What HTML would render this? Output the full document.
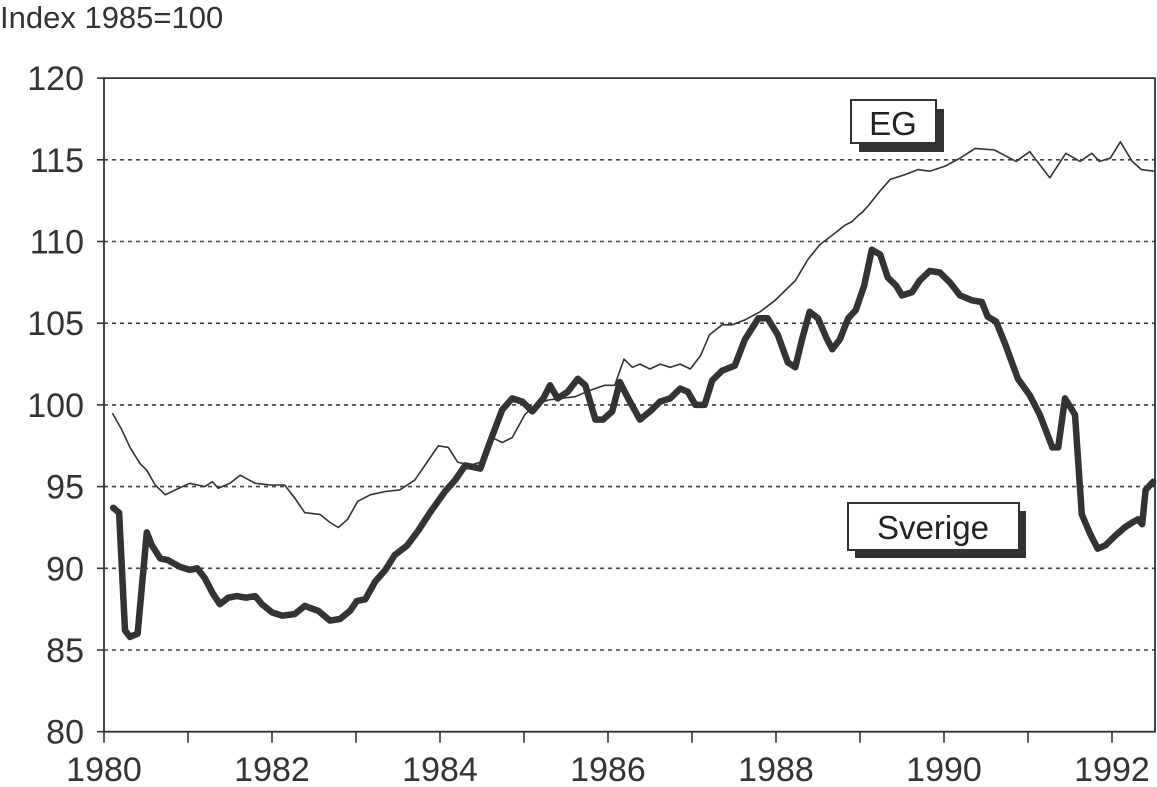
<!DOCTYPE html>
<html><head><meta charset="utf-8"><style>
html,body{margin:0;padding:0;background:#fff;}
svg{display:block;font-family:"Liberation Sans",sans-serif;}
</style></head><body>
<svg id="chart" width="1157" height="787" viewBox="0 0 1157 787" xmlns="http://www.w3.org/2000/svg">
<text x="0" y="28" font-size="31" fill="#333">Index  1985=100</text>
<g id="grid"></g>
<g id="axes"></g>
<g id="series"></g>
<g>
<rect x="859" y="109" width="85" height="43" fill="#333"/>
<rect x="851" y="100" width="85" height="43" fill="#fff" stroke="#333" stroke-width="2"/>
<text x="893" y="135" font-size="33" text-anchor="middle" fill="#222">EG</text>
</g>
<g>
<rect x="855" y="511" width="171" height="47" fill="#333"/>
<rect x="848" y="503" width="171" height="47" fill="#fff" stroke="#333" stroke-width="2"/>
<text x="933" y="539" font-size="33" text-anchor="middle" fill="#222">Sverige</text>
</g>
</svg>
<script>
const yTicks=[80,85,90,95,100,105,110,115,120];
const xTickLabels=[1980,1982,1984,1986,1988,1990,1992];
const sverigeT=[1980.11,1980.18,1980.25,1980.31,1980.40,1980.51,1980.57,1980.67,1980.76,1980.90,1981.02,1981.11,1981.20,1981.29,1981.38,1981.48,1981.58,1981.69,1981.80,1981.88,1982.00,1982.12,1982.27,1982.39,1982.55,1982.69,1982.81,1982.93,1983.01,1983.11,1983.23,1983.35,1983.46,1983.61,1983.74,1983.88,1984.06,1984.18,1984.30,1984.48,1984.60,1984.74,1984.86,1984.98,1985.10,1985.23,1985.31,1985.40,1985.52,1985.64,1985.73,1985.85,1985.94,1986.05,1986.14,1986.24,1986.38,1986.50,1986.62,1986.74,1986.86,1986.95,1987.04,1987.15,1987.24,1987.36,1987.51,1987.63,1987.79,1987.90,1988.02,1988.14,1988.23,1988.31,1988.40,1988.50,1988.60,1988.67,1988.76,1988.86,1988.95,1989.05,1989.14,1989.24,1989.33,1989.43,1989.50,1989.62,1989.71,1989.83,1989.95,1990.07,1990.19,1990.33,1990.45,1990.52,1990.62,1990.73,1990.88,1991.02,1991.14,1991.29,1991.36,1991.44,1991.56,1991.64,1991.74,1991.83,1991.92,1992.04,1992.15,1992.24,1992.31,1992.36,1992.40,1992.49];
const sverigeV=[93.7,93.4,86.2,85.8,86.0,92.2,91.4,90.6,90.5,90.1,89.9,90.0,89.4,88.5,87.8,88.2,88.3,88.2,88.3,87.8,87.3,87.1,87.2,87.7,87.4,86.8,86.9,87.4,88.0,88.1,89.2,89.9,90.8,91.4,92.3,93.4,94.7,95.4,96.3,96.1,97.8,99.7,100.4,100.2,99.6,100.4,101.2,100.4,100.8,101.6,101.2,99.1,99.1,99.6,101.4,100.4,99.1,99.6,100.2,100.4,101.0,100.8,100.0,100.0,101.5,102.1,102.4,104.0,105.3,105.3,104.3,102.6,102.3,104.0,105.7,105.3,104.1,103.4,104.0,105.3,105.8,107.3,109.5,109.2,107.8,107.3,106.7,106.9,107.6,108.2,108.1,107.5,106.7,106.4,106.3,105.4,105.1,103.7,101.6,100.6,99.4,97.4,97.4,100.4,99.4,93.3,92.1,91.2,91.4,92.0,92.5,92.8,93.0,92.7,94.8,95.3];
const egT=[1980.10,1980.21,1980.31,1980.43,1980.51,1980.61,1980.73,1980.85,1981.02,1981.20,1981.29,1981.36,1981.50,1981.62,1981.80,1981.98,1982.15,1982.27,1982.39,1982.57,1982.69,1982.79,1982.90,1983.02,1983.17,1983.35,1983.52,1983.70,1983.86,1983.98,1984.10,1984.21,1984.36,1984.48,1984.62,1984.74,1984.86,1985.01,1985.13,1985.29,1985.43,1985.61,1985.79,1985.96,1986.08,1986.19,1986.29,1986.38,1986.50,1986.62,1986.74,1986.86,1986.98,1987.10,1987.21,1987.36,1987.48,1987.63,1987.81,1987.99,1988.11,1988.23,1988.38,1988.52,1988.70,1988.82,1988.90,1988.98,1989.03,1989.10,1989.24,1989.36,1989.54,1989.69,1989.83,1990.01,1990.19,1990.37,1990.60,1990.86,1991.02,1991.26,1991.45,1991.62,1991.76,1991.85,1991.98,1992.10,1992.24,1992.35,1992.50];
const egV=[99.5,98.5,97.4,96.4,96.0,95.1,94.5,94.8,95.2,95.0,95.3,94.9,95.2,95.7,95.2,95.1,95.1,94.3,93.4,93.3,92.8,92.5,93.0,94.1,94.5,94.7,94.8,95.4,96.6,97.5,97.4,96.5,96.3,96.5,98.0,97.7,98.0,99.4,100.0,100.3,100.4,100.5,100.9,101.2,101.2,102.8,102.3,102.5,102.2,102.5,102.3,102.5,102.2,103.0,104.3,104.9,104.9,105.2,105.7,106.4,107.0,107.6,108.9,109.8,110.5,111.0,111.2,111.6,111.8,112.2,113.1,113.8,114.1,114.4,114.3,114.6,115.1,115.7,115.6,114.9,115.5,113.9,115.4,114.9,115.4,114.9,115.1,116.1,114.9,114.4,114.3];

const NS="http://www.w3.org/2000/svg";
const X0=104,PXY=84.0,Y0=731.7,PXV=16.34;
function xs(t){return X0+(t-1980)*PXY;}
function ys(v){return Y0-(v-80)*PXV;}
function mk(tag,attrs,parent){const e=document.createElementNS(NS,tag);for(const k in attrs)e.setAttribute(k,attrs[k]);parent.appendChild(e);return e;}
const grid=document.getElementById('grid'),axes=document.getElementById('axes'),ser=document.getElementById('series');
const right=1155;
yTicks.forEach(v=>{
  const y=ys(v);
  if(v>80&&v<120){
    const l=mk('line',{x1:X0,x2:right,y1:y,y2:y,stroke:'#444','stroke-width':1.6,'stroke-dasharray':'4 4'},grid);
    
    
  }
  const tk=mk('line',{x1:X0-7,x2:X0,y1:y,y2:y,stroke:'#333','stroke-width':1.6},axes);
  
  
  const tx=mk('text',{x:84,y:y+12,'font-size':34,'text-anchor':'end',fill:'#333'},axes);
  tx.textContent=v;
  
  
});
const frame=mk('path',{d:`M${X0} ${ys(120)} H${right} V${Y0} H${X0} Z`,fill:'none',stroke:'#333','stroke-width':1.8},axes);


for(let yr=1980;yr<=1992;yr++){
  const x=xs(yr);
  const tk=mk('line',{x1:x,x2:x,y1:Y0,y2:Y0+11,stroke:'#333','stroke-width':1.6},axes);
  
  
}
xTickLabels.forEach(yr=>{
  const tx=mk('text',{x:xs(yr),y:781,'font-size':34,'text-anchor':'middle',fill:'#333'},axes);
  tx.textContent=yr;
  
  
});
function pts(T,V){return T.map((t,i)=>xs(t).toFixed(1)+','+ys(V[i]).toFixed(1)).join(' ');}
const eg=mk('polyline',{points:pts(egT,egV),fill:'none',stroke:'#333','stroke-width':1.6,'stroke-linejoin':'round'},ser);


const sv=mk('polyline',{points:pts(sverigeT,sverigeV),fill:'none',stroke:'#333','stroke-width':6.5,'stroke-linejoin':'round','stroke-linecap':'round'},ser);


</script>
</body></html>
